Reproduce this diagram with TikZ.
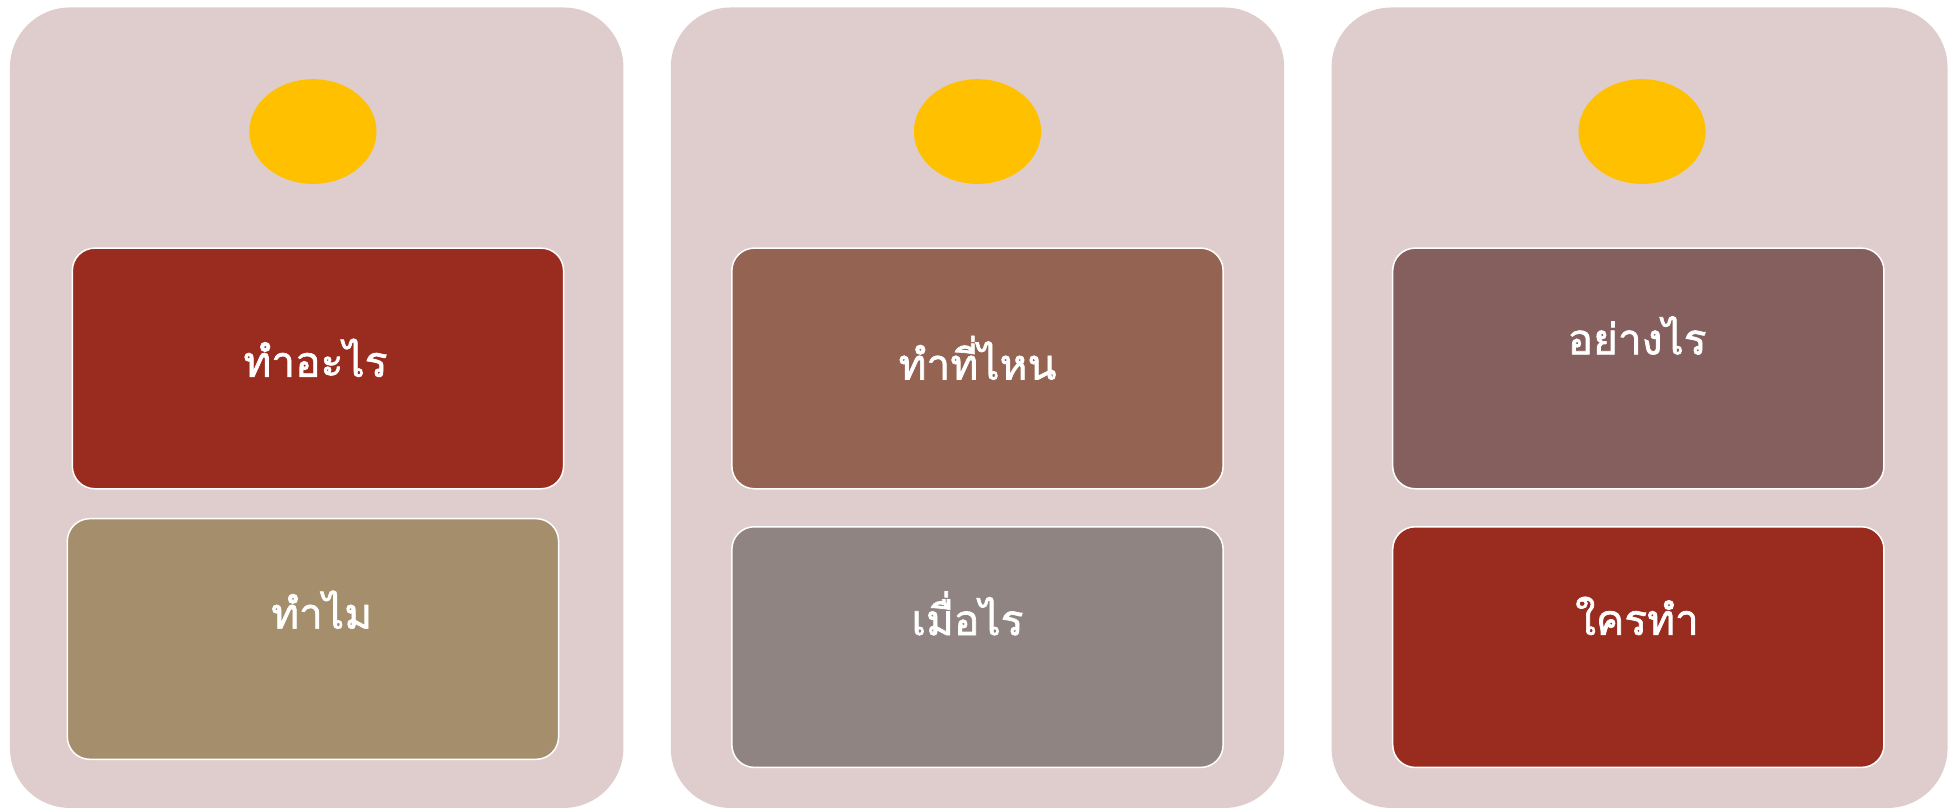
\documentclass[tikz,border=0pt]{standalone}
\usepackage{fontspec}
\newfontfamily\thaifont[Script=Thai,FakeBold=1.6]{Loma}
\usetikzlibrary{shapes.geometric}
\definecolor{panelbg}{RGB}{223,205,205}
\definecolor{sunyellow}{RGB}{255,192,0}
\definecolor{cardred}{RGB}{154,44,31}
\definecolor{cardtan}{RGB}{164,142,108}
\definecolor{cardbrown}{RGB}{149,99,82}
\definecolor{cardgrey}{RGB}{144,132,131}
\definecolor{cardmauve}{RGB}{133,94,94}
\begin{document}
\begin{tikzpicture}[x=1pt,y=-1pt,
  panel/.style={rectangle, fill=panelbg, rounded corners=48pt, minimum width=492pt, minimum height=642pt, inner sep=0pt},
  card/.style={rectangle, draw=white, line width=1.2pt, rounded corners=18pt, minimum width=394pt, minimum height=193pt, inner sep=0pt},
  lbl/.style={text=white, inner sep=0pt, font=\thaifont\fontsize{34}{40}\selectfont},
  sun/.style={ellipse, fill=sunyellow, minimum width=102pt, minimum height=84pt, inner sep=0pt}]
\useasboundingbox[fill=white] (0,0) rectangle (1568,650);
% panels
\node[panel] (p1) at (254,327) {};
\node[panel] (p2) at (784,327) {};
\node[panel, minimum width=494pt] (p3) at (1315,327) {};
% suns
\node[sun] (s1) at (251,105.5) {};
\node[sun] (s2) at (784,105.5) {};
\node[sun] (s3) at (1317,105.5) {};
% cards
\node[card, fill=cardred] (c1a) at (255,295.5) {};
\node[card, fill=cardtan] (c1b) at (251,512.5) {};
\node[card, fill=cardbrown] (c2a) at (784,295.5) {};
\node[card, fill=cardgrey] (c2b) at (784,519) {};
\node[card, fill=cardmauve] (c3a) at (1314,295.5) {};
\node[card, fill=cardred] (c3b) at (1314,519) {};
% labels
\node[lbl] (t1a) at (253,287) {ทำอะไร};
\node[lbl] (t1b) at (258,489) {ทำไม};
\node[lbl] (t2a) at (784,287) {ทำที่ไหน};
\node[lbl] (t2b) at (776,492) {เมื่อไร};
\node[lbl] (t3a) at (1313,269) {อย่างไร};
\node[lbl] (t3b) at (1313,494) {ใครทำ};
\end{tikzpicture}
\end{document}
